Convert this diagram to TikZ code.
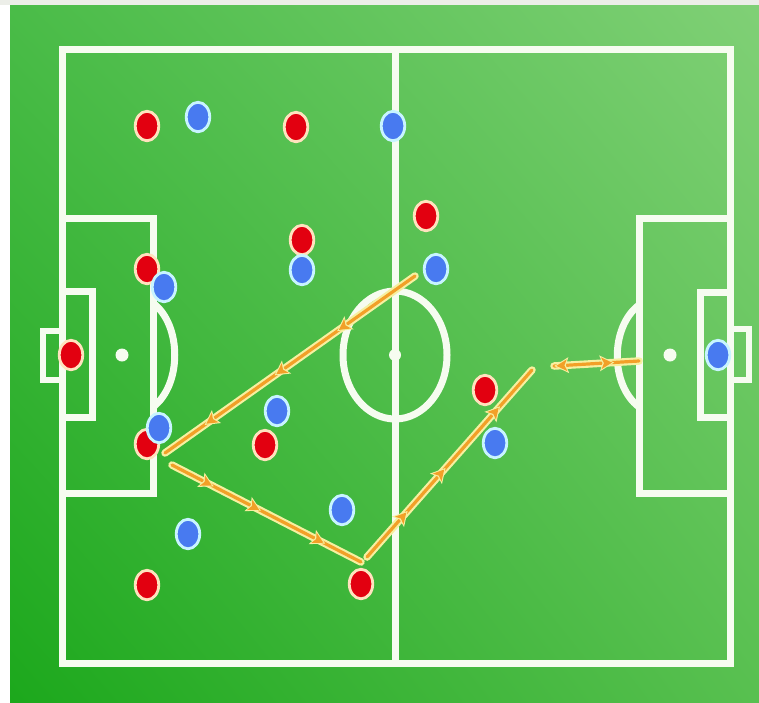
\documentclass[tikz,border=0pt]{standalone}
\usetikzlibrary{shapes.geometric,decorations.markings,shadings}
\definecolor{gTL}{RGB}{74,188,72}
\definecolor{gTR}{RGB}{128,208,118}
\definecolor{gBL}{RGB}{28,168,28}
\definecolor{gBR}{RGB}{88,192,80}
\definecolor{topgray}{RGB}{236,238,232}
\definecolor{linecol}{RGB}{246,252,240}
\definecolor{passcol}{RGB}{242,160,40}
\definecolor{passedge}{RGB}{246,240,160}
\definecolor{redfill}{RGB}{226,0,16}
\definecolor{redborder}{RGB}{255,226,190}
\definecolor{bluefill}{RGB}{72,122,240}
\definecolor{blueborder}{RGB}{200,244,255}
\def\mypasshead{%
  \fill[passedge] (6.5,0) -- (-8,8) -- (-5,0) -- (-8,-8) -- cycle;
  \fill[passcol] (4.5,0) -- (-6.2,5.8) -- (-3.6,0) -- (-6.2,-5.8) -- cycle;}
\def\mypassheadback{%
  \fill[passedge] (-6.5,0) -- (8,8) -- (5,0) -- (8,-8) -- cycle;
  \fill[passcol] (-4.5,0) -- (6.2,5.8) -- (3.6,0) -- (6.2,-5.8) -- cycle;}
\tikzset{
  pitchline/.style={draw=linecol, line width=7pt},
  goalline/.style={draw=linecol, line width=6pt},
  spot/.style={fill=linecol},
  redplayer/.style={ellipse, fill=redfill, draw=redborder, line width=2.8pt,
    minimum width=23.5pt, minimum height=29.5pt, inner sep=0pt},
  blueplayer/.style={ellipse, fill=bluefill, draw=blueborder, line width=2.8pt,
    minimum width=23.5pt, minimum height=29.5pt, inner sep=0pt},
  passline/.style={draw=passedge, line width=7.5pt, line cap=round,
    postaction={draw=passcol, line width=3.2pt, line cap=round}},
  arrowat/.style={postaction={decorate, decoration={markings,
    mark=at position #1 with {\mypasshead}}}},
  arrowbackat/.style={postaction={decorate, decoration={markings,
    mark=at position #1 with {\mypassheadback}}}}
}
\begin{document}
\begin{tikzpicture}[x=1pt,y=-1pt]
\useasboundingbox (0,0) rectangle (759,702);
\fill[white] (0,0) rectangle (759,702);
\fill[topgray] (0,0) rectangle (759,5);
\shade[lower left=gBL, lower right=gBR, upper left=gTL, upper right=gTR]
  (10,5) rectangle (759,702);

% pitch
\draw[pitchline] (62,49) rectangle (730,663);
\draw[pitchline] (395,49) -- (395,663);
\draw[pitchline] (395,355) ellipse [x radius=52, y radius=64];
\fill[spot] (395,355) circle [radius=6];
% left end
\draw[pitchline] (62,218) -- (153,218) -- (153,493) -- (62,493);
\draw[pitchline] (62,291) -- (92,291) -- (92,417) -- (62,417);
\draw[goalline] (62,331) -- (43,331) -- (43,380) -- (62,380);
\fill[spot] (122,355) circle [radius=6.5];
\draw[pitchline] (153,303) .. controls (182,325) and (182,385) .. (153,407);
% right end
\draw[pitchline] (730,218) -- (639,218) -- (639,493) -- (730,493);
\draw[pitchline] (730,292) -- (700,292) -- (700,417) -- (730,417);
\draw[goalline] (730,329) -- (749,329) -- (749,380) -- (730,380);
\fill[spot] (670,355) circle [radius=6.5];
\draw[pitchline] (639,305) .. controls (610,327) and (610,385) .. (639,407);

% pass end points
\coordinate (a1) at (415,276);
\coordinate (a2) at (165,453);
\coordinate (b1) at (172,465);
\coordinate (b2) at (361,562);
\coordinate (c1) at (367,557);
\coordinate (c2) at (532,370);
\coordinate (d1) at (554,366);
\coordinate (d2) at (639,361);

\draw[passline, arrowat=0.29, arrowat=0.54, arrowat=0.82] (a1) -- (a2);
\draw[passline, arrowat=0.19, arrowat=0.44, arrowat=0.78] (b1) -- (b2);
\draw[passline, arrowat=0.22, arrowat=0.45, arrowat=0.78] (c1) -- (c2);
\draw[passline, arrowbackat=0.08, arrowat=0.63] (d1) -- (d2);

% red players
\node[redplayer] (r1) at (147,126) {};
\node[redplayer] (r2) at (296,127) {};
\node[redplayer] (r3) at (302,240) {};
\node[redplayer] (r4) at (147,269) {};
\node[redplayer] (r5) at (71,355) {};
\node[redplayer] (r6) at (147,444) {};
\node[redplayer] (r7) at (265,445) {};
\node[redplayer] (r8) at (147,585) {};
\node[redplayer] (r9) at (361,584) {};
\node[redplayer] (r10) at (426,216) {};
\node[redplayer] (r11) at (485,390) {};
% blue players
\node[blueplayer] (b1n) at (198,117) {};
\node[blueplayer] (b2n) at (393,126) {};
\node[blueplayer] (b3n) at (302,270) {};
\node[blueplayer] (b4n) at (164,287) {};
\node[blueplayer] (b5n) at (436,269) {};
\node[blueplayer] (b6n) at (159,428) {};
\node[blueplayer] (b7n) at (277,411) {};
\node[blueplayer] (b8n) at (342,510) {};
\node[blueplayer] (b9n) at (188,534) {};
\node[blueplayer] (b10n) at (495,443) {};
\node[blueplayer] (b11n) at (718,355) {};
\end{tikzpicture}
\end{document}
